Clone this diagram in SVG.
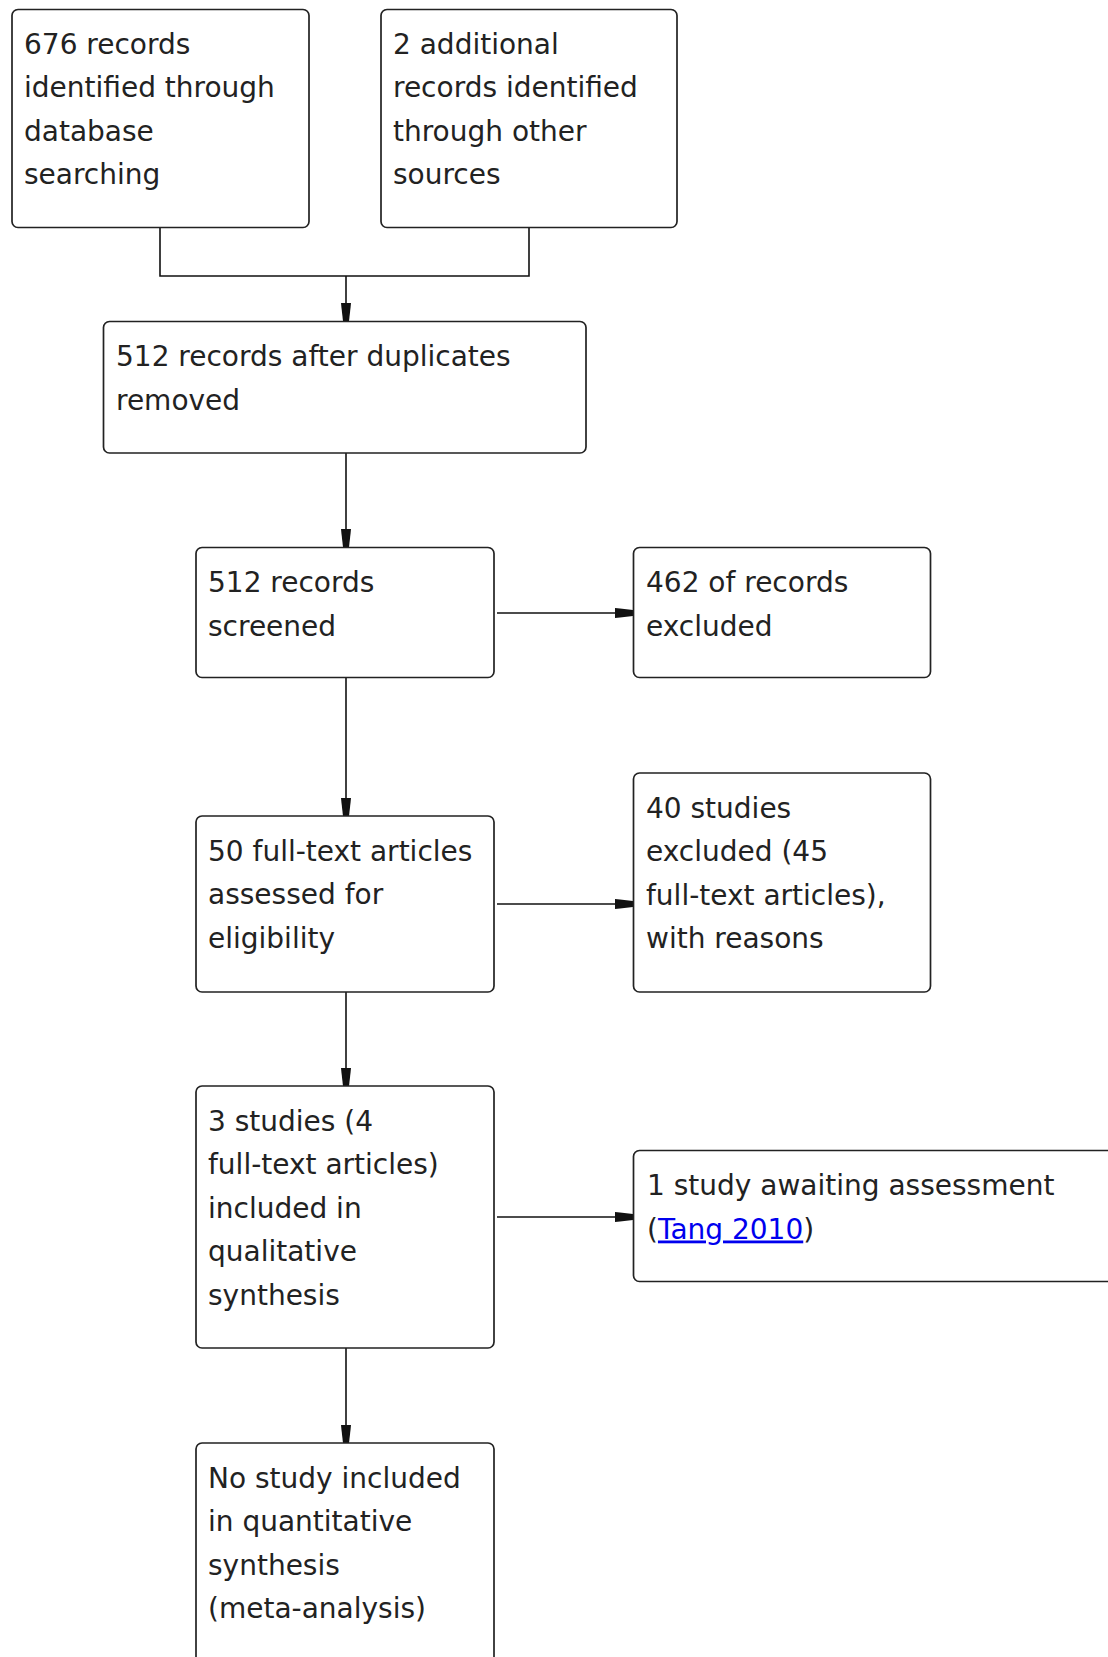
<svg xmlns="http://www.w3.org/2000/svg" width="1108" height="1657" viewBox="0 0 1108 1657">
<style>
.box{fill:#fff;stroke:#222;stroke-width:1.7}
.t{font-family:"DejaVu Sans",Verdana,sans-serif;font-size:28px;fill:#222}
.link{fill:#0000ee;text-decoration:underline}
.con{fill:none;stroke:#111;stroke-width:1.6}
</style>
<defs>
<marker id="arr" markerUnits="userSpaceOnUse" markerWidth="24" markerHeight="14" refX="0" refY="0" orient="auto" viewBox="-20 -7 24 14" overflow="visible">
<path d="M-18,-5 L-13,-4.5 L0,-3 L0,3 L-13,4.5 L-18,5 Z" fill="#111"/>
</marker>
</defs>
<rect width="1108" height="1657" fill="#fff"/>
<g id="connectors">
<path class="con" d="M160,227 V276 H529 V227"/>
<path class="con" d="M346,276 V321" marker-end="url(#arr)"/>
<path class="con" d="M346,453 V547" marker-end="url(#arr)"/>
<path class="con" d="M497,613 H633" marker-end="url(#arr)"/>
<path class="con" d="M346,678 V816" marker-end="url(#arr)"/>
<path class="con" d="M497,904 H633" marker-end="url(#arr)"/>
<path class="con" d="M346,992 V1086" marker-end="url(#arr)"/>
<path class="con" d="M497,1217 H633" marker-end="url(#arr)"/>
<path class="con" d="M346,1348 V1443" marker-end="url(#arr)"/>
</g>
<g id="n1"><rect class="box" x="12" y="9.5" width="297" height="218" rx="6"/>
<text class="t" x="24"><tspan x="24" y="53.5">676 records</tspan><tspan x="24" y="97">identified through</tspan><tspan x="24" y="140.5">database</tspan><tspan x="24" y="184">searching</tspan></text></g>
<g id="n2"><rect class="box" x="381" y="9.5" width="296" height="218" rx="6"/>
<text class="t"><tspan x="393" y="53.5">2 additional</tspan><tspan x="393" y="97">records identified</tspan><tspan x="393" y="140.5">through other</tspan><tspan x="393" y="184">sources</tspan></text></g>
<g id="n3"><rect class="box" x="103.5" y="321.5" width="482.5" height="131.5" rx="6"/>
<text class="t"><tspan x="116" y="366">512 records after duplicates</tspan><tspan x="116" y="409.5">removed</tspan></text></g>
<g id="n4"><rect class="box" x="196" y="547.5" width="298" height="130" rx="6"/>
<text class="t"><tspan x="208" y="592">512 records</tspan><tspan x="208" y="635.5">screened</tspan></text></g>
<g id="n5"><rect class="box" x="633.5" y="547.5" width="297" height="130" rx="6"/>
<text class="t"><tspan x="646" y="592">462 of records</tspan><tspan x="646" y="635.5">excluded</tspan></text></g>
<g id="n6"><rect class="box" x="196" y="816" width="298" height="176" rx="6"/>
<text class="t"><tspan x="208" y="860.5">50 full-text articles</tspan><tspan x="208" y="904">assessed for</tspan><tspan x="208" y="947.5">eligibility</tspan></text></g>
<g id="n7"><rect class="box" x="633.5" y="773" width="297" height="219" rx="6"/>
<text class="t"><tspan x="646" y="817.5">40 studies</tspan><tspan x="646" y="861">excluded (45</tspan><tspan x="646" y="904.5">full-text articles),</tspan><tspan x="646" y="948">with reasons</tspan></text></g>
<g id="n8"><rect class="box" x="196" y="1086" width="298" height="262" rx="6"/>
<text class="t"><tspan x="208" y="1130.5">3 studies (4</tspan><tspan x="208" y="1174">full-text articles)</tspan><tspan x="208" y="1217.5">included in</tspan><tspan x="208" y="1261">qualitative</tspan><tspan x="208" y="1304.5">synthesis</tspan></text></g>
<g id="n9"><rect class="box" x="633.5" y="1150.5" width="490" height="131" rx="6"/>
<text class="t"><tspan x="647" y="1195">1 study awaiting assessment</tspan><tspan x="647" y="1238.5">(</tspan><tspan class="link">Tang 2010</tspan><tspan>)</tspan></text></g>
<g id="n10"><rect class="box" x="196" y="1443" width="298" height="240" rx="6"/>
<text class="t"><tspan x="208" y="1487.5">No study included</tspan><tspan x="208" y="1531">in quantitative</tspan><tspan x="208" y="1574.5">synthesis</tspan><tspan x="208" y="1618">(meta-analysis)</tspan></text></g>
</svg>
